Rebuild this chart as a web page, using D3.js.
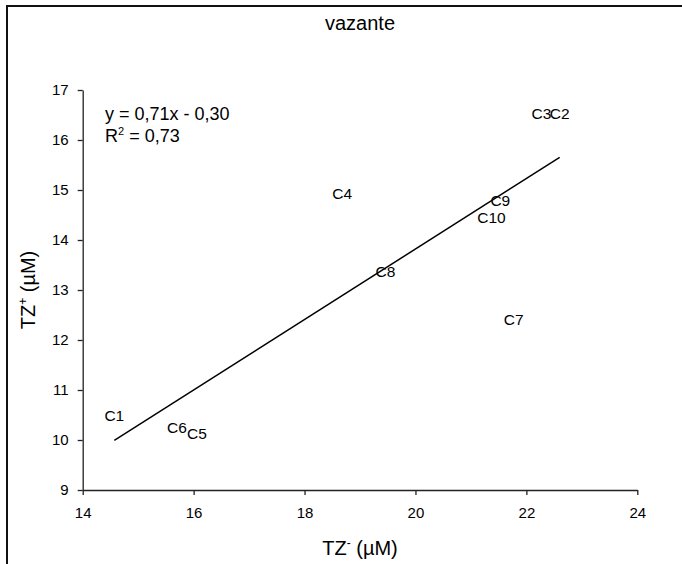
<!DOCTYPE html>
<html>
<head>
<meta charset="utf-8">
<script src="https://cdn.jsdelivr.net/npm/d3@7"></script>
<style>
  body { margin: 0; background: #fff; }
  svg { display: block; font-family: "Liberation Sans", Arial, sans-serif; }
</style>
</head>
<body>
<div id="chart"></div>
<script>

// sampling stations, TZ- (x) and TZ+ (y) in uM
var stations = ["C1", "C2", "C3", "C4", "C5", "C6", "C7", "C8", "C9", "C10"];
var tzMinus = [14.57, 22.60, 22.27, 18.68, 16.06, 15.70, 21.77, 19.46, 21.53, 21.37];
var tzPlus  = [10.50, 16.54, 16.54, 14.94, 10.14, 10.26, 12.42, 13.38, 14.80, 14.46];

var xTicks = [14, 16, 18, 20, 22, 24];
var yTicks = [9, 10, 11, 12, 13, 14, 15, 16, 17];
var equationLines = ["y = 0,71x - 0,30", "R", "2", " = 0,73"];

var width = 682, height = 564;

var x = d3.scaleLinear().domain([14, 24]).range([82.7, 637.3]);
var y = d3.scaleLinear().domain([9, 17]).range([490, 90]);

var svg = d3.select("#chart").append("svg")
    .attr("width", width)
    .attr("height", height);

// chart area border (only left/top visible in the crop)
svg.append("rect")
    .attr("x", 7).attr("y", 6)
    .attr("width", width + 20).attr("height", height + 20)
    .attr("fill", "none")
    .attr("stroke", "#111")
    .attr("stroke-width", 2);

// axes
var xAxis = d3.axisBottom(x)
    .tickValues(xTicks)
    .tickSize(5)
    .tickSizeOuter(0)
    .tickPadding(12)
    .tickFormat(d3.format("d"));

var yAxis = d3.axisLeft(y)
    .tickValues(yTicks)
    .tickSize(5)
    .tickSizeOuter(0)
    .tickPadding(9)
    .tickFormat(d3.format("d"));

var gx = svg.append("g")
    .attr("transform", "translate(0," + y(9) + ")")
    .call(xAxis);

var gy = svg.append("g")
    .attr("transform", "translate(" + x(14) + ",0)")
    .call(yAxis);

[gx, gy].forEach(function(g) {
    g.selectAll("path, line").attr("stroke", "#222").attr("stroke-width", 1.3);
    g.selectAll("text")
        .attr("fill", "#000")
        .style("font-size", "15px")
        .style("font-family", "Liberation Sans, Arial, sans-serif");
});

// linear trend (least squares)
var n = tzMinus.length;
var mx = d3.mean(tzMinus), my = d3.mean(tzPlus);
var sxy = 0, sxx = 0;
for (var i = 0; i < n; i++) {
    sxy += (tzMinus[i] - mx) * (tzPlus[i] - my);
    sxx += (tzMinus[i] - mx) * (tzMinus[i] - mx);
}
var slope = sxy / sxx, intercept = my - slope * mx;
var xr = d3.extent(tzMinus);

svg.append("line")
    .attr("x1", x(xr[0])).attr("y1", y(slope * xr[0] + intercept))
    .attr("x2", x(xr[1])).attr("y2", y(slope * xr[1] + intercept))
    .attr("stroke", "#000")
    .attr("stroke-width", 1.5);

// point labels (no markers)
svg.selectAll(".lbl")
    .data(stations)
    .enter().append("text")
    .attr("class", "lbl")
    .attr("x", function(d, i) { return x(tzMinus[i]); })
    .attr("y", function(d, i) { return y(tzPlus[i]); })
    .attr("text-anchor", "middle")
    .attr("dominant-baseline", "central")
    .style("font-size", "15.5px")
    .text(function(d) { return d; });

// equation
svg.append("text")
    .attr("x", 105).attr("y", 120)
    .style("font-size", "18px")
    .text(equationLines[0]);

var r2 = svg.append("text")
    .attr("x", 105).attr("y", 142)
    .style("font-size", "18px");
r2.append("tspan").text(equationLines[1]);
r2.append("tspan").attr("dy", -7).style("font-size", "11px").text(equationLines[2]);
r2.append("tspan").attr("dy", 7).text(equationLines[3]);

// title
svg.append("text")
    .attr("x", (x(14) + x(24)) / 2).attr("y", 30)
    .attr("text-anchor", "middle")
    .style("font-size", "20px")
    .text("vazante");

// x label
var xl = svg.append("text")
    .attr("x", (x(14) + x(24)) / 2).attr("y", 555)
    .attr("text-anchor", "middle")
    .style("font-size", "20px");
xl.append("tspan").text("TZ");
xl.append("tspan").attr("dy", -8).style("font-size", "12px").text("-");
xl.append("tspan").attr("dy", 8).text(" (\u00b5M)");

// y label
var yl = svg.append("text")
    .attr("transform", "translate(35," + (y(9) + y(17)) / 2 + ") rotate(-90)")
    .attr("text-anchor", "middle")
    .style("font-size", "20px");
yl.append("tspan").text("TZ");
yl.append("tspan").attr("dy", -8).style("font-size", "12px").text("+");
yl.append("tspan").attr("dy", 8).text(" (\u00b5M)");

</script>
</body>
</html>
